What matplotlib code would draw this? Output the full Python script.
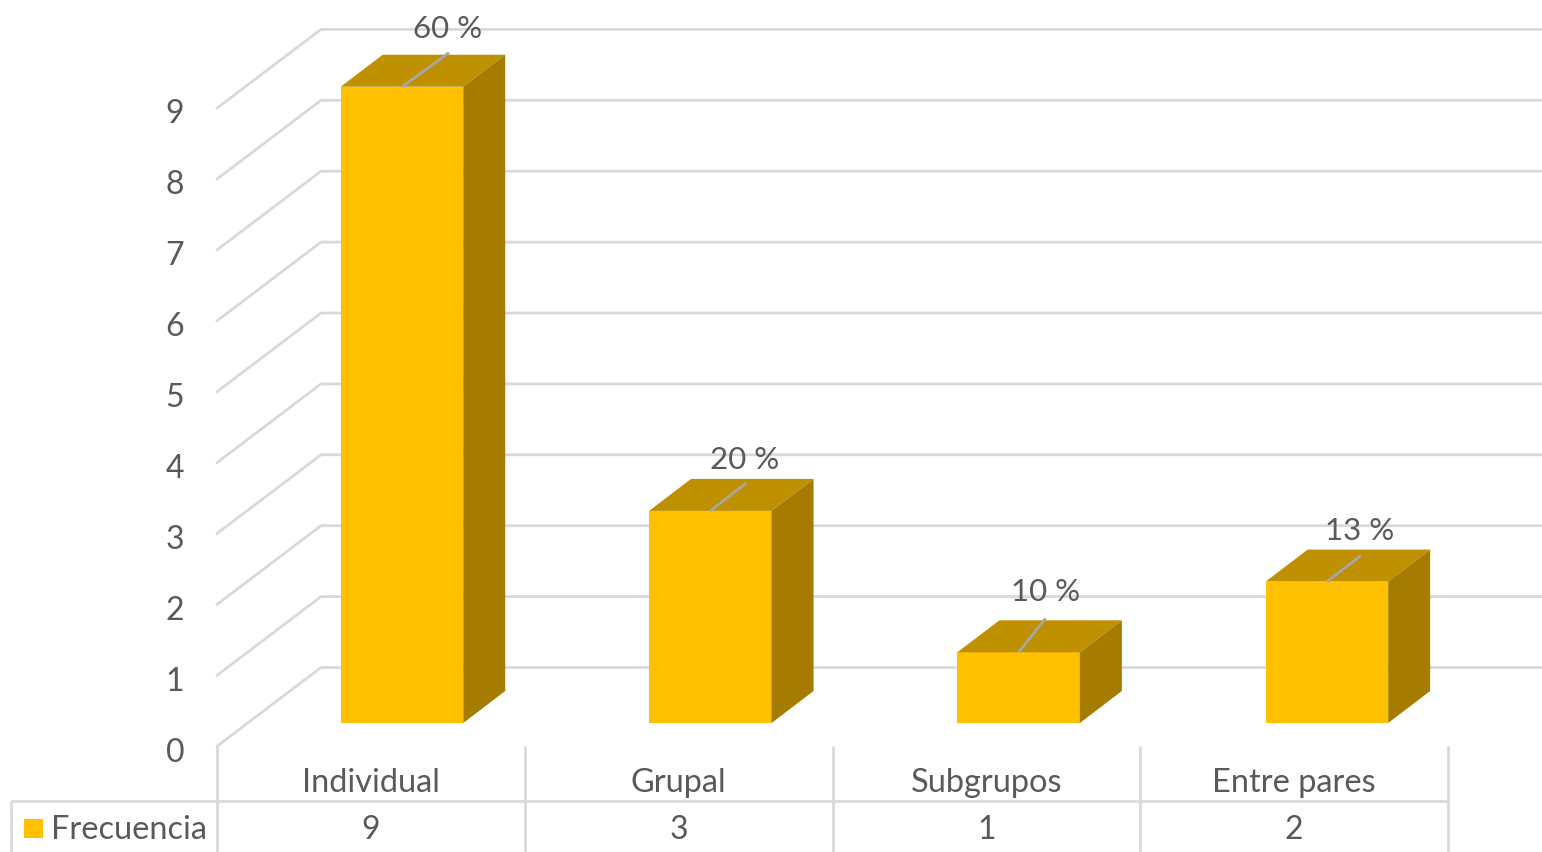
import matplotlib
matplotlib.use('Agg')
import matplotlib.pyplot as plt
from matplotlib.patches import Polygon, Rectangle

categories = ['Individual', 'Grupal', 'Subgrupos', 'Entre pares']
frecuencia = [9, 3, 1, 2]
porcentajes = ['60 %', '20 %', '10 %', '13 %']
y_ticks = [0, 1, 2, 3, 4, 5, 6, 7, 8, 9]

# pixel geometry of the fake 3d chart
unit = 70.9
bar_unit = 70.7
floor_front = 724
wall_zero = 668.5
diag_zero = 748
wall_left = 321
diag_left = 216
table_left = 217
cat_w = 307.75
bar_start = 402
bar_step = 308.3
bar_w = 122.5
dx, dy = 42, 32
grid = '#d9d9d9'
text_c = '#595959'

# leader line ends and label centres, relative to the bar's top front centre
leader_off = [(47, -34), (36, -28), (27, -34), (34, -26)]
label_off = [(46, -59), (34, -52), (27, -61), (33, -52)]

plt.rcParams['font.family'] = ['Lato', 'DejaVu Sans']

fig = plt.figure(figsize=(15.42, 8.53), dpi=100)
ax = fig.add_axes([0, 0, 1, 1])
ax.set_xlim(0, 1542)
ax.set_ylim(853, 0)
ax.axis('off')

def line(xs, ys, color=grid, lw=2.0, z=1):
    ax.plot(xs, ys, color=color, lw=lw, zorder=z, solid_capstyle='butt')

# walls
for v in y_ticks:
    wy = wall_zero - v * unit
    dy0 = diag_zero - v * unit
    line([diag_left, wall_left, 1542], [dy0, wy, wy])
    ax.text(175, dy0 + 4.5, str(v), color=text_c, fontsize=23, ha='center', va='center')

# bars
for i, val in enumerate(frecuencia):
    cx = bar_start + bar_step * i
    x0 = cx - bar_w / 2
    x1 = cx + bar_w / 2
    top = floor_front - val * bar_unit
    ax.add_patch(Rectangle((x0, top), bar_w, val * bar_unit, fc='#ffc000', ec='none', zorder=3))
    ax.add_patch(Polygon([(x0, top), (x0 + dx, top - dy), (x1 + dx, top - dy), (x1, top)],
                         fc='#bf9000', ec='none', zorder=3))
    ax.add_patch(Polygon([(x1, top), (x1 + dx, top - dy), (x1 + dx, floor_front - dy), (x1, floor_front)],
                         fc='#a67c00', ec='none', zorder=3))
    lx, ly = leader_off[i]
    line([cx, cx + lx], [top, top + ly], color='#a6a6a6', lw=2.0, z=4)
    tx, ty = label_off[i]
    ax.text(cx + tx, top + ty, porcentajes[i], color=text_c, fontsize=22.5,
            ha='center', va='center', zorder=5)

# data table
n = len(categories)
for i in range(n + 1):
    x = table_left + cat_w * i
    line([x, x], [747, 853])
line([11, table_left + cat_w * n], [802, 802])
line([11, 11], [802, 853])

for i, c in enumerate(categories):
    x = table_left + cat_w * (i + 0.5)
    ax.text(x, 783, c, color=text_c, fontsize=23.4, ha='center', va='center')
    ax.text(x, 830, str(frecuencia[i]), color=text_c, fontsize=23, ha='center', va='center')

ax.add_patch(Rectangle((24, 820), 19, 19, fc='#ffc000', ec='none'))
ax.text(51, 830, 'Frecuencia', color=text_c, fontsize=23.4, ha='left', va='center')

fig.savefig('out.png', dpi=100)
